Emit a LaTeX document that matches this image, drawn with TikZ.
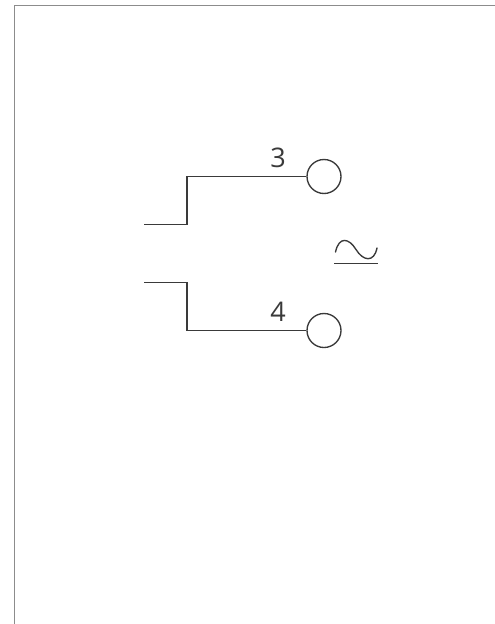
\documentclass[tikz,border=0pt]{standalone}
\usepackage{fontspec}
\setmainfont{Open Sans}
\definecolor{ink}{HTML}{3A3A3A}
\tikzset{wire/.style={draw=ink,line width=1.35pt,line join=miter},
  term/.style={circle,draw=ink,line width=1.35pt,minimum size=34pt,inner sep=0pt,fill=white},
  num/.style={text=ink,font=\fontsize{27pt}{28pt}\selectfont,inner sep=0pt},
  frameline/.style={draw=black!45,line width=1pt}}
\begin{document}
\begin{tikzpicture}[x=1pt,y=-1pt]
\useasboundingbox (0,0) rectangle (495,624);
\fill[white] (0,0) rectangle (495,624);
\coordinate (fa) at (14.5,624);
\coordinate (fb) at (14.5,5);
\coordinate (fc) at (495,5);
\draw[frameline] (fa) -- (fb) -- (fc);
\node[term] (t3) at (324,176.5) {};
\node[term] (t4) at (324,330.5) {};
\coordinate (a1) at (144,224.6);
\coordinate (a2) at (187,224.6);
\coordinate (a3) at (187,176.5);
\coordinate (b1) at (144,282.5);
\coordinate (b2) at (187,282.5);
\coordinate (b3) at (187,330.5);
\draw[wire] (a1) -- (a2) -- (a3) -- (t3.west);
\draw[wire] (b1) -- (b2) -- (b3) -- (t4.west);
\node[num] (n3) at (278,158) {3};
\node[num] (n4) at (278,312) {4};
\coordinate (s1) at (334,263.5);
\coordinate (s2) at (378,263.5);
\draw[wire] (s1) -- (s2);
\coordinate (w1) at (335.5,252);
\coordinate (w2) at (356,249.5);
\coordinate (w3) at (377,248);
\draw[wire,line cap=round] (w1) .. controls (339,236) and (349,238) .. (w2) .. controls (363,261) and (374,263) .. (w3);
\end{tikzpicture}
\end{document}
